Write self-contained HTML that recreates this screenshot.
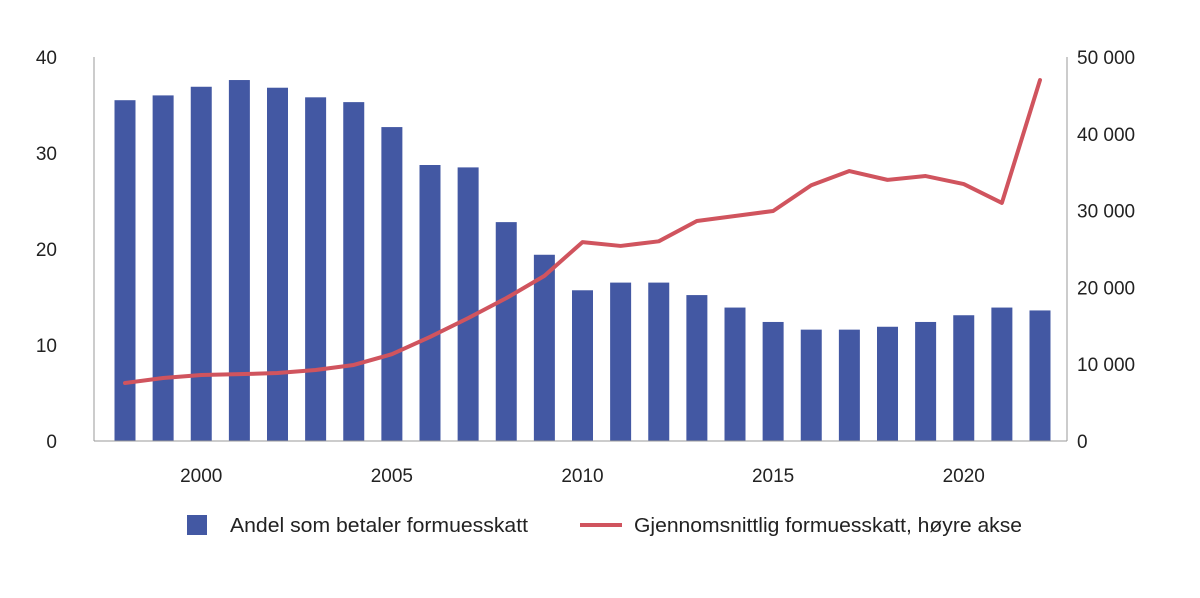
<!DOCTYPE html>
<html><head><meta charset="utf-8"><style>
html,body{margin:0;padding:0;background:#fff;}
svg{display:block;font-family:"Liberation Sans","DejaVu Sans",sans-serif;}
</style></head><body>
<svg id="chart" width="1200" height="598"></svg>
<script>
const years=[1998,1999,2000,2001,2002,2003,2004,2005,2006,2007,2008,2009,2010,2011,2012,2013,2014,2015,2016,2017,2018,2019,2020,2021,2022];
const shareValues=[35.5,36.0,36.9,37.6,36.8,35.8,35.3,32.7,28.75,28.5,22.8,19.4,15.7,16.5,16.5,15.2,13.9,12.4,11.6,11.6,11.9,12.4,13.1,13.9,13.6];
const avgTax=[7550,8200,8600,8700,8850,9250,9900,11300,13550,16000,18600,21500,25900,25400,26000,28650,29300,29950,33300,35150,34000,34500,33450,31000,47000];
const leftTicks=[0,10,20,30,40];
const rightTicks=[0,10000,20000,30000,40000,50000];
const rightTickLabels=["0","10 000","20 000","30 000","40 000","50 000"];
const xTickYears=[2000,2005,2010,2015,2020];

const NS="http://www.w3.org/2000/svg";
const svg=document.getElementById('chart');
const x0=94,x1=1067,yBot=441,yTop=57;
const xs=y=>125+(y-1998)*(1040-125)/24;
const yl=v=>yBot-(v/40)*(yBot-yTop);
const yr=v=>yBot-(v/50000)*(yBot-yTop);
function mk(t,a){const e=document.createElementNS(NS,t);for(const k in a)e.setAttribute(k,a[k]);svg.appendChild(e);return e;}

let e=mk('line',{x1:x0,y1:yTop,x2:x0,y2:yBot,stroke:'#999','stroke-width':1});


e=mk('line',{x1:x1,y1:yTop,x2:x1,y2:yBot,stroke:'#999','stroke-width':1});



leftTicks.forEach(v=>{
  const t=mk('text',{x:57,y:yl(v)+7,'text-anchor':'end','font-size':19,fill:'#222'});
  t.textContent=v;
  
  
});
rightTicks.forEach((v,i)=>{
  const t=mk('text',{x:1077,y:yr(v)+7,'text-anchor':'start','font-size':19,fill:'#222'});
  t.textContent=rightTickLabels[i];
  
  
});
xTickYears.forEach(y=>{
  const t=mk('text',{x:xs(y),y:482,'text-anchor':'middle','font-size':19,fill:'#222'});
  t.textContent=y;
  
  
});

shareValues.forEach((v,i)=>{
  const b=mk('rect',{x:xs(years[i])-10.5,y:yl(v),width:21,height:yBot-yl(v),fill:'#4358a3'});
  
  
});
e=mk('line',{x1:x0,y1:yBot,x2:x1,y2:yBot,stroke:'#999','stroke-width':1});



const pts=avgTax.map((v,i)=>xs(years[i])+','+yr(v)).join(' ');
const pl=mk('polyline',{points:pts,fill:'none',stroke:'#d0545e','stroke-width':4,'stroke-linejoin':'round','stroke-linecap':'round'});



const lg=mk('rect',{x:187,y:515,width:20,height:20,fill:'#4358a3'});


let lt=mk('text',{x:230,y:532,'font-size':20,fill:'#222',textLength:298,lengthAdjust:'spacingAndGlyphs'});
lt.textContent='Andel som betaler formuesskatt';


const ll=mk('line',{x1:580,y1:525,x2:622,y2:525,stroke:'#d0545e','stroke-width':4});


lt=mk('text',{x:634,y:532,'font-size':20,fill:'#222',textLength:388,lengthAdjust:'spacingAndGlyphs'});
lt.textContent='Gjennomsnittlig formuesskatt, høyre akse';


</script>
</body></html>
